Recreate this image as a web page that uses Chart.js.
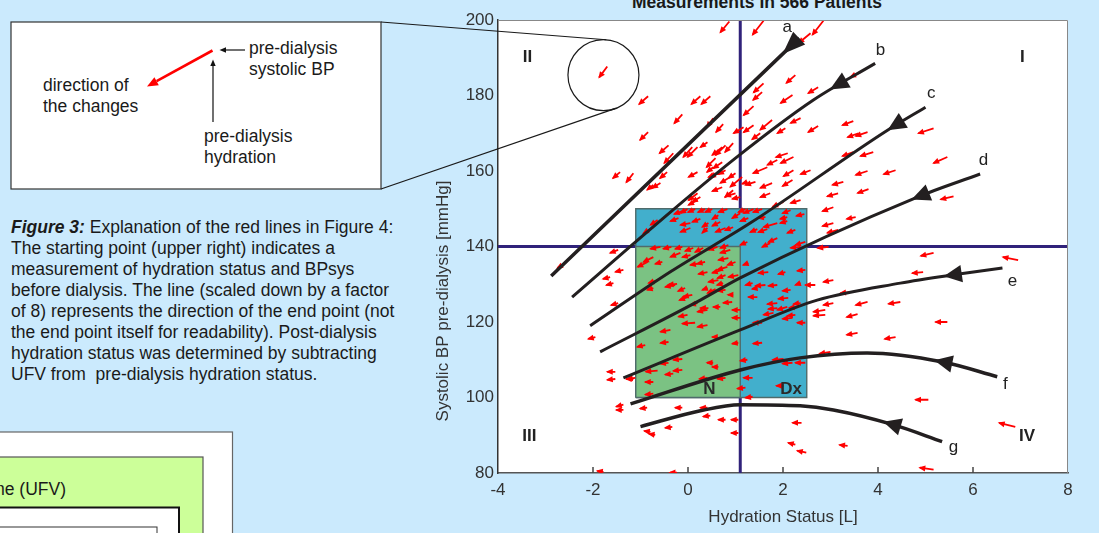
<!DOCTYPE html>
<html>
<head>
<meta charset="utf-8">
<title>Hydration status and systolic BP</title>
<script src="https://cdn.jsdelivr.net/npm/chart.js@4.4.1/dist/chart.umd.min.js"></script>
<style>
  html, body { margin: 0; padding: 0; }
  body { width: 1099px; height: 533px; background: #cbeafd; overflow: hidden; position: relative; }
  #panel { position: absolute; left: 0; top: 0; }
  #c { position: absolute; left: 0; top: 0; }
  text { font-family: "Liberation Sans", Arial, Helvetica, sans-serif; fill: #1a1a1a; }
</style>
</head>
<body>

<svg id="panel" width="1099" height="533" xmlns="http://www.w3.org/2000/svg">
  <!-- explanation box (figure 3) -->
  <rect x="11" y="22" width="370" height="167" fill="#fff" stroke="#333" stroke-width="1.2"/>
  <line x1="212.5" y1="50.5" x2="156.6" y2="81.2" stroke="#f00" stroke-width="2.6"/>
  <polygon points="147,86.5 154.4,77.3 158.8,85.2" fill="#f00"/>
  <line x1="245" y1="50" x2="224" y2="50" stroke="#111" stroke-width="1.2"/>
  <polygon points="219.5,50 226,47.3 226,52.7" fill="#111"/>
  <line x1="213" y1="122" x2="213" y2="65" stroke="#111" stroke-width="1.2"/>
  <polygon points="213,59.5 210.3,66 215.7,66" fill="#111"/>
  <text x="249" y="54" font-size="17.5">pre-dialysis</text>
  <text x="249" y="75" font-size="17.5">systolic BP</text>
  <text x="43" y="91" font-size="17.5">direction of</text>
  <text x="43" y="112" font-size="17.5">the changes</text>
  <text x="204" y="142" font-size="17.5">pre-dialysis</text>
  <text x="204" y="163" font-size="17.5">hydration</text>

  <!-- caption -->
  <g font-size="17.5">
    <text x="11" y="233"><tspan font-weight="bold" font-style="italic">Figure 3:</tspan> Explanation of the red lines in Figure 4:</text>
    <text x="11" y="254">The starting point (upper right) indicates a</text>
    <text x="11" y="275">measurement of hydration status and BPsys</text>
    <text x="11" y="296">before dialysis. The line (scaled down by a factor</text>
    <text x="11" y="317">of 8) represents the direction of the end point (not</text>
    <text x="11" y="338">the end point itself for readability). Post-dialysis</text>
    <text x="11" y="359">hydration status was determined by subtracting</text>
    <text x="11" y="380" xml:space="preserve">UFV from  pre-dialysis hydration status.</text>
  </g>

  <!-- partial diagram bottom left -->
  <rect x="-2" y="432" width="234.5" height="120" fill="#fff" stroke="#666" stroke-width="1.2"/>
  <rect x="-2" y="457" width="205" height="100" fill="#ccff99" stroke="#555" stroke-width="1.2"/>
  <text x="66" y="495" font-size="17.5" text-anchor="end">Ultrafiltration Volume (UFV)</text>
  <rect x="-2" y="507.5" width="181" height="40" fill="#fff" stroke="#111" stroke-width="2"/>
  <rect x="-2" y="527" width="159" height="20" fill="#fff" stroke="#333" stroke-width="1"/>

  <!-- chart title (cut off at the top) -->
  <text x="757" y="8" font-size="17.5" font-weight="bold" text-anchor="middle">Measurements In 566 Patients</text>
</svg>

<canvas id="c" width="1099" height="533"></canvas>

<script>
// axis ranges and ticks
const hydrationMin = -4, hydrationMax = 8;
const bpMin = 80, bpMax = 200;
const xTickValues = [-4, -2, 0, 2, 4, 6, 8];
const yTickValues = [80, 100, 120, 140, 160, 180, 200];

// quadrant split and reference boxes
const splitHydration = 1.1;
const splitBP = 140;
const normalHydration = [-1.1, 1.1];
const normalBP = [100, 140];
const dxHydration = [-1.1, 2.5];
const dxBP = [100, 150];

// red lines: pre-dialysis measurement + direction to end point (scaled down by 8)
const preHydration = [
  0.87,-1.70,-0.84,0.26,0.47,-0.12,-0.84,0.53,0.74,-0.41,
  -0.31,0.20,0.41,0.72,0.95,0.72,0.20,-1.43,-1.15,-0.44,
  -0.58,0.68,1.14,0.20,0.95,0.89,0.62,0.72,0.26,1.00,
  1.17,0.09,0.58,0.79,-0.73,1.59,2.85,2.58,2.26,1.59,
  1.56,1.38,2.20,2.74,3.63,1.38,1.77,1.52,2.05,2.37,
  2.74,3.48,3.78,3.59,5.17,2.10,2.22,3.48,3.90,1.88,
  1.67,2.22,2.58,2.20,5.46,4.37,3.78,3.27,1.77,1.73,
  3.80,3.16,2.37,5.59,3.06,3.53,3.06,3.16,2.96,1.42,
  2.01,-0.01,0.15,0.36,0.51,0.83,1.21,1.38,1.56,-0.64,
  0.05,0.43,0.64,1.10,1.27,1.63,2.09,2.09,-0.73,0.05,
  0.41,0.79,0.95,1.88,1.67,2.26,1.88,1.73,2.47,2.37,
  1.25,-0.12,-0.20,0.26,0.68,1.46,2.16,2.45,-0.58,-0.35,
  -0.12,0.11,0.32,0.62,0.85,0.89,-0.73,-0.85,-0.54,-0.16,
  0.05,0.36,0.26,0.85,0.83,0.41,0.79,0.64,0.74,-0.64,
  -0.73,-0.27,-0.06,0.41,0.79,0.95,0.09,0.93,0.68,0.43,
  1.10,1.10,0.41,-0.01,0.15,0.41,-0.37,-0.41,-0.90,0.62,
  1.06,-0.12,-0.41,0.53,0.64,-0.12,-0.64,-0.31,-0.73,-1.11,
  0.79,0.41,-0.73,-1.53,-1.53,-2.64,-1.47,-1.36,-1.64,-1.57,
  -1.47,-1.95,-1.15,-1.36,-1.36,-0.86,-0.79,-0.69,-0.33,0.41,
  0.79,1.06,1.06,-1.78,-0.23,0.47,-0.12,-0.23,-0.01,0.20,
  0.58,1.00,0.72,1.06,1.27,1.69,2.05,2.47,1.36,1.63,
  1.88,1.46,2.16,2.37,1.46,2.11,2.30,1.88,1.88,2.37,
  2.09,2.26,2.20,1.80,2.47,1.56,1.56,2.01,2.47,2.20,
  1.36,1.25,1.21,1.36,2.01,5.17,4.95,6.95,3.42,3.78,
  4.47,5.46,3.57,3.57,4.37,3.06,2.89,2.89,3.00,5.06,
  2.39,6.89,2.26,2.49,3.36,5.17,3.06,2.68,0.53,0.79,
  1.00,1.25,0.20,1.10
];
const preBP = [
  199.6,187.7,179.8,179.8,179.8,175.0,170.3,174.0,172.4,166.8,
  164.7,166.3,167.6,166.3,167.4,162.3,159.7,159.7,159.4,159.7,
  156.8,159.7,158.4,154.1,154.9,158.4,159.4,155.7,153.1,154.1,
  171.6,166.3,163.4,166.8,156.3,199.8,199.8,196.5,185.4,183.2,
  180.9,177.2,180.1,182.2,186.2,172.1,173.5,170.0,171.3,174.0,
  171.9,173.2,170.3,170.0,171.3,164.7,163.7,165.0,165.0,162.9,
  161.0,160.2,160.2,157.6,163.7,160.2,160.0,157.1,156.8,154.1,
  155.2,154.1,152.3,153.3,150.4,147.8,146.2,144.4,139.9,157.1,
  151.8,149.9,149.9,149.9,149.9,149.9,149.9,149.9,149.9,147.0,
  146.2,146.2,148.3,148.8,147.5,147.8,147.8,146.7,145.1,144.9,
  144.9,144.9,145.1,146.2,144.6,144.4,142.2,140.9,141.2,139.9,
  141.2,149.4,147.5,147.3,146.5,144.6,149.6,148.6,139.9,139.9,
  139.9,139.6,139.6,139.9,140.4,139.1,137.2,135.9,135.9,138.3,
  137.7,135.9,135.6,136.9,134.6,133.2,132.4,131.1,130.3,131.1,
  129.0,129.8,129.0,129.0,128.5,127.2,127.2,125.3,124.0,123.7,
  123.2,121.1,123.2,121.9,119.8,119.2,117.9,114.7,113.9,116.0,
  114.5,110.2,109.2,109.2,108.1,107.3,107.1,106.3,104.1,105.2,
  105.2,105.2,101.0,106.8,104.9,135.1,139.1,133.8,131.9,130.3,
  125.0,116.0,104.9,98.1,96.7,97.3,90.9,90.1,92.2,97.3,
  94.1,94.1,90.6,80.3,80.1,95.2,97.3,130.1,126.6,125.0,
  128.7,135.9,133.8,132.4,135.6,133.2,133.2,133.8,130.3,129.8,
  129.8,129.0,128.5,130.3,126.6,126.4,124.0,123.7,125.0,125.0,
  124.0,121.9,121.1,122.4,119.8,119.8,114.5,110.2,109.2,109.2,
  105.2,110.0,102.6,100.2,103.1,138.3,133.2,136.4,127.9,125.3,
  125.3,120.0,122.1,117.1,116.0,131.1,123.2,121.9,112.1,99.4,
  93.3,92.2,87.5,85.4,87.2,80.9,125.0,129.8,161.0,160.2,
  159.4,157.1,152.3,153.1
];
const deltaHydration = [
  -0.19,-0.17,-0.19,-0.19,-0.19,-0.17,-0.17,-0.13,-0.15,-0.19,
  -0.19,-0.21,-0.15,-0.21,-0.17,-0.19,-0.19,-0.15,-0.15,-0.15,
  -0.17,-0.21,-0.25,-0.19,-0.17,-0.21,-0.19,-0.21,-0.17,-0.21,
  -0.21,-0.19,-0.19,-0.21,-0.13,-0.23,-0.23,-0.25,-0.19,-0.21,
  -0.19,-0.21,-0.25,-0.21,-0.21,-0.21,-0.25,-0.17,-0.17,-0.21,
  -0.21,-0.23,-0.25,-0.23,-0.32,-0.25,-0.27,-0.23,-0.27,-0.21,
  -0.30,-0.21,-0.21,-0.21,-0.29,-0.25,-0.25,-0.23,-0.25,-0.21,
  -0.23,-0.23,-0.21,-0.27,-0.23,-0.19,-0.23,-0.23,-0.23,-0.21,
  -0.23,-0.15,-0.15,-0.15,-0.15,-0.19,-0.15,-0.21,-0.19,-0.15,
  -0.21,-0.13,-0.13,-0.17,-0.17,-0.15,-0.15,-0.15,-0.21,-0.21,
  -0.11,-0.21,-0.17,-0.29,-0.19,-0.17,-0.19,-0.17,-0.21,-0.21,
  -0.15,-0.17,-0.17,-0.17,-0.17,-0.15,-0.17,-0.17,-0.21,-0.17,
  -0.15,-0.17,-0.17,-0.19,-0.17,-0.21,-0.21,-0.21,-0.15,-0.21,
  -0.17,-0.17,-0.21,-0.21,-0.21,-0.19,-0.17,-0.21,-0.13,-0.19,
  -0.13,-0.21,-0.15,-0.11,-0.17,-0.11,-0.19,-0.19,-0.15,-0.17,
  -0.17,-0.17,-0.21,-0.19,-0.27,-0.21,-0.21,-0.17,-0.17,-0.11,
  -0.13,-0.19,-0.17,-0.13,-0.13,-0.19,-0.25,-0.17,-0.17,-0.17,
  -0.17,-0.17,-0.17,-0.17,-0.17,-0.11,-0.17,-0.17,-0.15,-0.15,
  -0.15,-0.15,-0.15,-0.15,-0.15,-0.15,-0.13,-0.13,-0.15,-0.15,
  -0.15,-0.15,-0.15,-0.13,-0.15,-0.15,-0.15,-0.19,-0.17,-0.15,
  -0.17,-0.17,-0.21,-0.21,-0.11,-0.21,-0.15,-0.17,-0.15,-0.21,
  -0.19,-0.11,-0.17,-0.11,-0.19,-0.21,-0.17,-0.19,-0.21,-0.15,
  -0.21,-0.17,-0.21,-0.21,-0.17,-0.19,-0.19,-0.23,-0.21,-0.21,
  -0.19,-0.15,-0.17,-0.15,-0.15,-0.27,-0.23,-0.32,-0.21,-0.25,
  -0.25,-0.25,-0.23,-0.23,-0.23,-0.21,-0.25,-0.25,-0.23,-0.27,
  -0.19,-0.34,-0.15,-0.19,-0.17,-0.29,-0.21,-0.21,-0.13,-0.15,
  -0.15,-0.11,-0.19,-0.17
];
const deltaBP = [
  -2.9,-2.9,-2.1,-2.1,-2.1,-2.4,-2.1,-2.4,-2.1,-2.1,
  -2.6,-2.6,-1.3,-2.1,-2.4,-1.6,-1.3,-1.6,-2.4,-1.6,
  -1.3,-1.3,-2.6,-1.85,-1.85,-1.6,-1.05,-1.05,-1.3,-0.8,
  -1.6,-2.6,-2.4,-2.6,-1.3,-3.7,-3.7,-2.6,-2.1,-2.4,
  -2.1,-2.4,-2.1,-1.6,-1.3,-1.85,-2.6,-1.6,-1.3,-1.3,
  -1.6,-1.05,-1.05,-1.05,-1.3,-1.05,-1.6,-1.05,-1.05,-1.3,
  -1.6,-1.6,-1.05,-1.6,-1.6,-1.05,-1.05,-0.8,-1.3,-1.05,
  -1.05,-0.8,-0.8,-0.8,-1.05,-0.5,-0.8,-0.8,-0.3,-0.8,
  -1.3,-1.05,-0.8,-0.8,-0.8,-0.8,-0.8,-1.05,-0.8,-1.3,
  -0.5,-1.05,-1.05,-1.3,-0.8,-0.25,-0.5,-0.5,-1.6,-1.05,
  -1.3,-1.05,-0.8,-1.05,-0.8,-0.8,-1.05,-1.05,-0.8,-0.25,
  -0.8,-0.8,-0.8,-0.8,-1.05,-0.8,-0.8,-0.5,-0.5,-0.5,
  -0.5,-0.8,-1.05,-0.8,-0.8,-0.8,-1.3,-1.3,-0.5,-1.05,
  -0.5,-0.5,-0.5,-0.5,-0.8,-0.5,-0.8,-0.5,-0.5,-0.8,
  -0.5,-0.5,-0.8,-0.5,-0.25,0,-0.5,-0.25,0,0,
  0,0,-0.5,-0.5,-0.25,-0.5,-0.5,-0.25,-0.5,0,
  -0.25,-0.25,-0.25,0,0,-0.25,-0.25,-0.25,0,-0.25,
  -0.25,-0.25,-0.25,0,-0.25,-0.8,-0.8,-0.5,-0.5,-0.5,
  -0.5,-0.5,0,-0.5,0,-0.25,0.25,0.25,-0.25,0,
  0,0,0,0.25,0,-0.25,0,-0.25,-0.8,-0.5,
  -1.05,-0.8,-0.8,-0.5,-0.5,-0.25,-0.5,-0.25,-0.5,-0.25,
  -0.25,-0.25,-0.25,-0.5,0,-0.25,-0.25,-0.25,-0.25,-0.25,
  -0.8,-0.25,-0.25,-0.5,0,0,-0.25,-0.25,0,-0.25,
  0,-0.25,-0.25,-0.25,0,-0.8,-0.25,0.8,-0.25,-0.8,
  -0.5,0,-0.8,-0.5,-0.5,-0.5,-0.5,-0.25,-0.5,0,
  0,1.05,0.5,0.5,0.25,0.5,-0.5,0,-1.3,-1.05,
  -1.3,-0.5,-1.3,-0.5
];

// guide curves a-g (drawn toward lower hydration)
const curveNames = ['a', 'b', 'c', 'd', 'e', 'f', 'g'];
const curveHydration = [
  [-2.88, 2.34],
  [-2.44, -0.79, 1.0, 2.64, 3.94],
  [-2.06, -0.37, 1.31, 4.2, 5.0],
  [-1.85, 0.26, 1.1, 4.83, 6.15],
  [-1.36, 1.1, 2.72, 4.47, 5.59, 6.62],
  [-1.21, 1.1, 2.36, 3.77, 5.37, 6.51],
  [-1.0, 0.26, 1.1, 2.36, 3.06, 4.32, 5.35]
];
const curveBP = [
  [132.2, 195.2],
  [126.6, 144.6, 163.4, 178.8, 188.5],
  [119.0, 133.3, 146.2, 170.8, 176.9],
  [112.1, 125.8, 131.7, 153.1, 159.2],
  [105.2, 117.9, 125.8, 130.3, 132.5, 134.3],
  [98.3, 107.3, 110.5, 111.8, 109.4, 105.5],
  [92.3, 96.5, 98.1, 97.8, 96.7, 92.8, 88.3]
];
const curveArrowAt = [1.92, 2.98, 4.2, 4.68, 5.38, 5.17, 4.11];
const curveWidths = [3.5, 3, 3, 3, 3, 3.5, 3.5];

// label places (data units)
const curveLabelPos = [[2.09, 198.1], [4.05, 192.0], [5.12, 180.6], [6.22, 162.9], [6.83, 130.9], [6.68, 103.4], [5.59, 86.7]];
const quadrantNames = ['I', 'II', 'III', 'IV'];
const quadrantPos = [[7.04, 190.1], [-3.38, 190.1], [-3.34, 89.6], [7.14, 89.6]];
const boxNames = ['N', 'Dx'];
const boxPos = [[0.45, 102.3], [2.17, 102.3]];
const zoomCenter = [-1.78, 185.4];

const FONT = '"Liberation Sans", Arial, Helvetica, sans-serif';
Chart.defaults.font.family = FONT;
Chart.defaults.color = '#333';

// build red line segments (tail, head, gap)
const arrowPoints = [];
for (let i = 0; i < preHydration.length; i++) {
  arrowPoints.push({ x: preHydration[i], y: preBP[i] });
  arrowPoints.push({ x: preHydration[i] + deltaHydration[i], y: preBP[i] + deltaBP[i] });
  arrowPoints.push({ x: preHydration[i], y: null });
}

function boxPath(xs, ys) {
  return [
    { x: xs[0], y: ys[0] }, { x: xs[0], y: ys[1] },
    { x: xs[1], y: ys[1] }, { x: xs[1], y: ys[0] }, { x: xs[0], y: ys[0] }
  ];
}

const datasets = [
  { label: 'split BP', data: [{ x: hydrationMin, y: splitBP }, { x: hydrationMax, y: splitBP }],
    borderColor: '#30227a', borderWidth: 3, order: 50 },
  { label: 'split hydration', data: [{ x: splitHydration, y: bpMin }, { x: splitHydration, y: bpMax }],
    borderColor: '#30227a', borderWidth: 3, order: 49 },
  { label: 'Dx', data: boxPath(dxHydration, dxBP), fill: 'shape',
    backgroundColor: 'rgb(66,175,204)', borderColor: '#4f6b6b', borderWidth: 1.4, order: 40 },
  { label: 'N', data: boxPath(normalHydration, normalBP), fill: 'shape',
    backgroundColor: 'rgb(123,194,131)', borderColor: '#4f6b6b', borderWidth: 1.4, order: 39 },
  { label: 'arrows', data: arrowPoints, borderColor: '#ff0000', borderWidth: 1.8,
    spanGaps: false, order: 30 }
];
const ARROWS = 4;
curveNames.forEach(function (name, k) {
  datasets.push({
    label: 'curve ' + name,
    data: curveHydration[k].map(function (v, j) { return { x: v, y: curveBP[k][j] }; }),
    borderColor: '#231f20', borderWidth: curveWidths[k],
    cubicInterpolationMode: 'monotone', order: 10 - k * 0.1
  });
});

// sample a rendered line (bezier control points from Chart.js)
function sampleCurve(pts) {
  const out = [];
  for (let i = 0; i < pts.length - 1; i++) {
    const p0 = pts[i], p1 = pts[i + 1];
    const c1x = p0.cp2x ?? p0.x, c1y = p0.cp2y ?? p0.y;
    const c2x = p1.cp1x ?? p1.x, c2y = p1.cp1y ?? p1.y;
    for (let s = 0; s < 60; s++) {
      const t = s / 60, u = 1 - t;
      out.push({
        x: u * u * u * p0.x + 3 * u * u * t * c1x + 3 * u * t * t * c2x + t * t * t * p1.x,
        y: u * u * u * p0.y + 3 * u * u * t * c1y + 3 * u * t * t * c2y + t * t * t * p1.y
      });
    }
  }
  const last = pts[pts.length - 1];
  out.push({ x: last.x, y: last.y });
  return out;
}

const overlay = {
  id: 'overlay',
  beforeDraw(chart) {
    const { ctx, chartArea: a } = chart;
    ctx.save();
    ctx.fillStyle = '#fff';
    ctx.fillRect(a.left, a.top, a.right - a.left, a.bottom - a.top);
    ctx.restore();
  },
  afterDatasetDraw(chart, args) {
    if (args.index !== ARROWS) return;
    const ctx = chart.ctx, pts = args.meta.data, a = chart.chartArea;
    ctx.save();
    ctx.beginPath();
    ctx.rect(a.left, a.top, a.right - a.left, a.bottom - a.top);
    ctx.clip();
    ctx.fillStyle = '#ff0000';
    for (let i = 0; i + 1 < pts.length; i += 3) {
      const t = pts[i], h = pts[i + 1];
      const dx = h.x - t.x, dy = h.y - t.y, len = Math.hypot(dx, dy) || 1;
      const ux = dx / len, uy = dy / len;
      ctx.beginPath();
      ctx.moveTo(h.x + ux * 1.5, h.y + uy * 1.5);
      ctx.lineTo(h.x - ux * 5.5 - uy * 3, h.y - uy * 5.5 + ux * 3);
      ctx.lineTo(h.x - ux * 5.5 + uy * 3, h.y - uy * 5.5 - ux * 3);
      ctx.closePath();
      ctx.fill();
    }
    ctx.restore();
  },
  afterDatasetsDraw(chart) {
    const { ctx, chartArea: a } = chart;
    const xs = chart.scales.x, ys = chart.scales.y;

    // arrowheads on the guide curves
    ctx.save();
    ctx.fillStyle = '#231f20';
    curveNames.forEach(function (name, k) {
      const line = sampleCurve(chart.getDatasetMeta(ARROWS + 1 + k).data);
      const tipX = xs.getPixelForValue(curveArrowAt[k]);
      let j = line.findIndex(function (p) { return p.x >= tipX; });
      if (j < 0) return;
      const tip = line[j];
      let dist = 0, base = tip;
      for (let m = j + 1; m < line.length; m++) {
        dist += Math.hypot(line[m].x - line[m - 1].x, line[m].y - line[m - 1].y);
        base = line[m];
        if (dist >= 18) break;
      }
      const dx = base.x - tip.x, dy = base.y - tip.y, len = Math.hypot(dx, dy) || 1;
      const px = -dy / len * 8.7, py = dx / len * 8.7;
      ctx.beginPath();
      ctx.moveTo(tip.x, tip.y);
      ctx.lineTo(base.x + px, base.y + py);
      ctx.lineTo(base.x - px, base.y - py);
      ctx.closePath();
      ctx.fill();
    });
    ctx.restore();

    // text labels
    ctx.save();
    ctx.textAlign = 'center';
    ctx.textBaseline = 'middle';
    ctx.fillStyle = '#222';
    ctx.font = '17px ' + FONT;
    curveNames.forEach(function (name, k) {
      ctx.fillText(name, xs.getPixelForValue(curveLabelPos[k][0]), ys.getPixelForValue(curveLabelPos[k][1]));
    });
    ctx.font = 'bold 17px ' + FONT;
    quadrantNames.forEach(function (name, k) {
      ctx.fillText(name, xs.getPixelForValue(quadrantPos[k][0]), ys.getPixelForValue(quadrantPos[k][1]));
    });
    ctx.fillStyle = '#2a2a2a';
    boxNames.forEach(function (name, k) {
      ctx.fillText(name, xs.getPixelForValue(boxPos[k][0]), ys.getPixelForValue(boxPos[k][1]));
    });
    ctx.restore();

    // zoom circle and connectors to the explanation box
    const cx = xs.getPixelForValue(zoomCenter[0]), cy = ys.getPixelForValue(zoomCenter[1]), r = 35.5;
    ctx.save();
    ctx.strokeStyle = '#1a1a1a';
    ctx.lineWidth = 1.2;
    ctx.beginPath();
    ctx.arc(cx, cy, r, 0, Math.PI * 2);
    ctx.stroke();
    [[381, 22, -1], [381, 189, 1]].forEach(function (c) {
      const d = Math.hypot(cx - c[0], cy - c[1]);
      const ang = Math.atan2(cy - c[1], cx - c[0]) + c[2] * Math.asin(r / d);
      const l = Math.sqrt(d * d - r * r);
      ctx.beginPath();
      ctx.moveTo(c[0], c[1]);
      ctx.lineTo(c[0] + l * Math.cos(ang), c[1] + l * Math.sin(ang));
      ctx.stroke();
    });
    ctx.restore();

    // inward ticks and frame
    ctx.save();
    ctx.strokeStyle = '#444';
    ctx.lineWidth = 1.5;
    xTickValues.slice(1, -1).forEach(function (v) {
      const p = xs.getPixelForValue(v);
      ctx.beginPath();
      ctx.moveTo(p, a.bottom);
      ctx.lineTo(p, a.bottom - 6);
      ctx.stroke();
    });
    ctx.strokeStyle = '#888';
    ctx.lineWidth = 1;
    ctx.beginPath();
    ctx.moveTo(a.left, a.top + 0.5);
    ctx.lineTo(a.right - 0.5, a.top + 0.5);
    ctx.lineTo(a.right - 0.5, a.bottom);
    ctx.stroke();
    ctx.restore();

    // y axis title
    ctx.save();
    ctx.translate(a.left - 55, (a.top + a.bottom) / 2 + 54.5);
    ctx.rotate(-Math.PI / 2);
    ctx.textAlign = 'center';
    ctx.textBaseline = 'middle';
    ctx.fillStyle = '#333';
    ctx.font = '17px ' + FONT;
    ctx.fillText('Systolic BP pre-dialysis [mmHg]', 0, 0);
    ctx.restore();
  }
};

new Chart(document.getElementById('c'), {
  type: 'line',
  data: { datasets: datasets },
  options: {
    responsive: false,
    animation: false,
    events: [],
    layout: { padding: { left: 420, right: 31, top: 20, bottom: 1 } },
    elements: { point: { radius: 0, hitRadius: 0 }, line: { tension: 0 } },
    plugins: { legend: { display: false }, tooltip: { enabled: false } },
    scales: {
      x: {
        type: 'linear', min: hydrationMin, max: hydrationMax,
        afterBuildTicks: function (s) { s.ticks = xTickValues.map(function (v) { return { value: v }; }); },
        afterFit: function (s) { s.height = 59; },
        ticks: { font: { size: 17 }, color: '#333', padding: 7, maxRotation: 0 },
        grid: { display: false, drawTicks: false },
        border: { color: '#555', width: 1.5 },
        title: { display: true, text: 'Hydration Status [L]', font: { size: 17 }, color: '#333' }
      },
      y: {
        type: 'linear', min: bpMin, max: bpMax,
        afterBuildTicks: function (s) { s.ticks = yTickValues.map(function (v) { return { value: v }; }); },
        afterFit: function (s) { s.width = 78; },
        ticks: { font: { size: 17 }, color: '#333', padding: 4 },
        grid: { display: false, drawTicks: false },
        border: { color: '#333', width: 1.5 }
      }
    }
  },
  plugins: [overlay]
});
</script>
</body>
</html>
